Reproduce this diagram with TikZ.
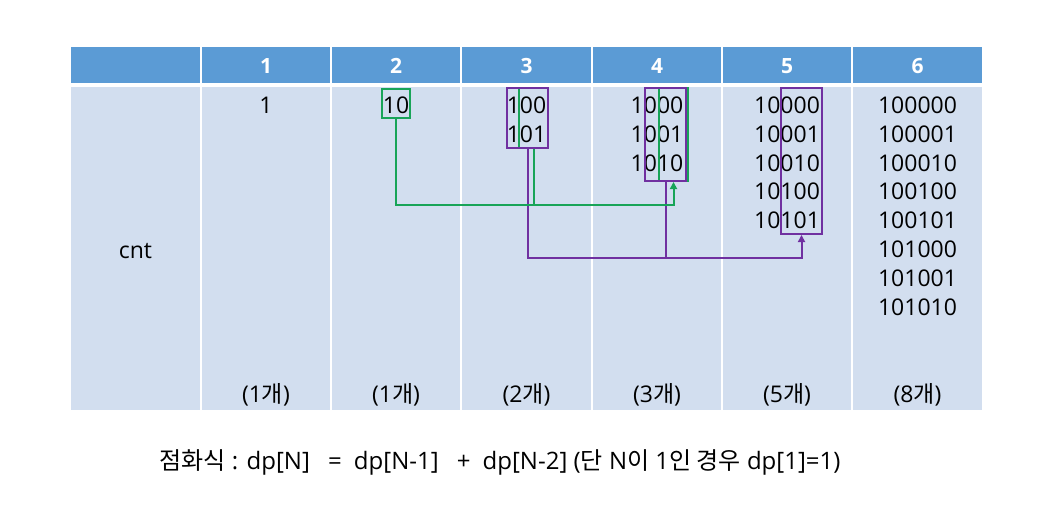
\documentclass[tikz,border=0pt]{standalone}
\usepackage{fontspec}
\setmainfont{Open Sans}
\newfontfamily\kr{Noto Sans CJK KR}
\usetikzlibrary{arrows.meta}
\definecolor{headblue}{RGB}{91,155,213}
\definecolor{bodyblue}{RGB}{210,222,239}
\definecolor{linegreen}{RGB}{24,164,88}
\definecolor{linepurple}{RGB}{112,48,160}

\begin{document}
\begin{tikzpicture}[x=1pt,y=-1pt]
\useasboundingbox[fill=white] (0,0) rectangle (1043,523);

% table
\fill[headblue] (71,47) rectangle (982,83);
\fill[bodyblue] (71,87) rectangle (982,410);
\foreach \x in {201,331,461,592,722,852}
	\draw[white,line width=2pt] (\x,45) -- (\x,410);

\begin{scope}[every node/.style={text=white,font=\bfseries\fontsize{21}{24}\selectfont}]
	\node (h1) at (266,66) {1};
	\node (h2) at (396,66) {2};
	\node (h3) at (526.5,66) {3};
	\node (h4) at (657,66) {4};
	\node (h5) at (787,66) {5};
	\node (h6) at (917.5,66) {6};
\end{scope}

\begin{scope}[every node/.style={inner sep=0pt,font=\fontsize{23}{26}\selectfont}]
	\node (c1r1) at (266,105) {1};
	\node (c2r1) at (396,105) {10};
	\node (c3r1) at (526.5,105) {100};
	\node (c3r2) at (526.5,134) {101};
	\foreach \t [count=\i] in {1000,1001,1010}
		\node (c4r\i) at (657,{105+28.9*(\i-1)}) {\t};
	\foreach \t [count=\i] in {10000,10001,10010,10100,10101}
		\node (c5r\i) at (787,{105+28.9*(\i-1)}) {\t};
	\foreach \t [count=\i] in {100000,100001,100010,100100,100101,101000,101001,101010}
		\node (c6r\i) at (917.5,{105+28.9*(\i-1)}) {\t};
	\node[anchor=base] (cnt) at (135.5,258) {cnt};
	\node[anchor=base] (n1) at (266,402) {(1{\kr 개})};
	\node[anchor=base] (n2) at (396,402) {(1{\kr 개})};
	\node[anchor=base] (n3) at (526.5,402) {(2{\kr 개})};
	\node[anchor=base] (n4) at (657,402) {(3{\kr 개})};
	\node[anchor=base] (n5) at (787,402) {(5{\kr 개})};
	\node[anchor=base] (n6) at (917.5,402) {(8{\kr 개})};
	\node[anchor=base,font=\fontsize{24}{28}\selectfont] (rec) at (500,469)
		{{\kr 점화식} : dp[N] \enspace=\enspace dp[N-1] \enspace+\enspace dp[N-2] ({\kr 단} N{\kr 이} 1{\kr 인 경우} dp[1]=1)};
\end{scope}

\coordinate (gy) at (0,205);
\coordinate (py) at (0,258);

\begin{scope}[every node/.style={draw,line width=2pt,inner sep=0pt}]
	\node[linegreen,minimum width=28pt,minimum height=29pt] (b2g) at (396,103.5) {};
	\node[linegreen,minimum width=29pt,minimum height=60pt] (b3g) at (533.5,118) {};
	\node[linegreen,minimum width=29pt,minimum height=93pt] (b4g) at (673.5,134.5) {};
	\node[linepurple,minimum width=41pt,minimum height=60pt] (b3p) at (527.5,118) {};
	\node[linepurple,minimum width=41pt,minimum height=93pt] (b4p) at (665.5,134.5) {};
	\node[linepurple,minimum width=41pt,minimum height=146pt] (b5p) at (801.5,161) {};
\end{scope}

\begin{scope}[>={Triangle[length=7pt,width=7pt]}, line width=2pt]
	\draw[linepurple,->] (b3p.south) |- (py -| b5p.south) -- (b5p.south);
	\draw[linepurple] (b4p.south) -- (b4p.south |- py);
	\draw[linegreen,->] (b2g.south) |- (gy -| b4g.south) -- (b4g.south);
	\draw[linegreen] (b3g.south) -- (b3g.south |- gy);
\end{scope}
\end{tikzpicture}
\end{document}
